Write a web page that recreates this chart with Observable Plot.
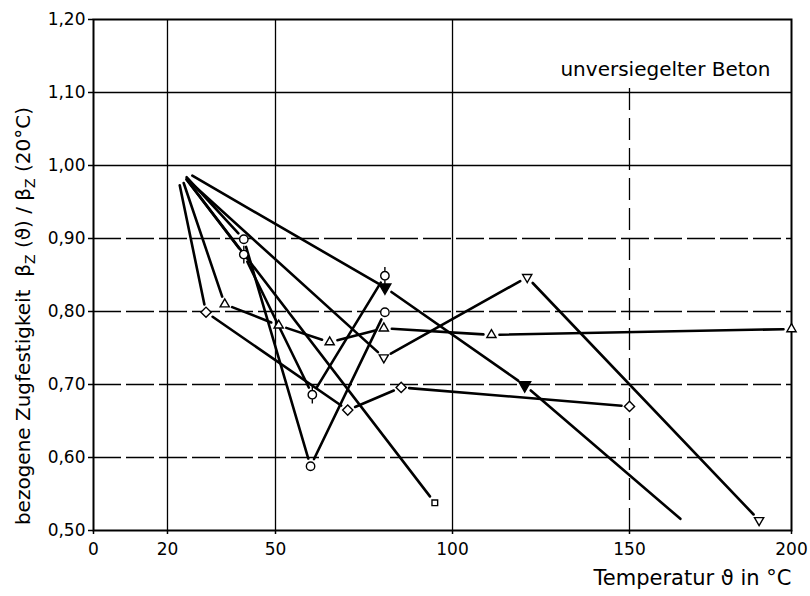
<!DOCTYPE html>
<html><head><meta charset="utf-8">
<script src="https://cdn.jsdelivr.net/npm/d3@7"></script>
<script src="https://cdn.jsdelivr.net/npm/@observablehq/plot@0.6"></script>
<style>
body{margin:0;background:#fff;}
#chart svg{display:block;}
</style>
</head><body><div id="chart"></div>
<script>
// axis ticks
const xTicks = [0, 20, 50, 100, 150, 200];
const yTicks = [0.5, 0.6, 0.7, 0.8, 0.9, 1.0, 1.1, 1.2];
const gridSolidY = [1.0, 1.1];
const gridDashedY = [0.6, 0.7, 0.8, 0.9];
const gridSolidX = [20, 50, 100];
const gridDashedX = [150];

// test series: temperature (°C) and relative tensile strength
const diamondT = [23.4, 30.7, 70.4, 85.5, 150];
const diamondV = [0.973, 0.799, 0.665, 0.696, 0.670];
const triUpT = [24.5, 35.9, 50.9, 65.3, 80.6, 111, 200];
const triUpV = [0.976, 0.810, 0.781, 0.758, 0.777, 0.768, 0.776];
const triDownT = [25.9, 80.6, 121.1, 190];
const triDownV = [0.979, 0.737, 0.847, 0.514];
const triFilledT = [26.9, 80.9, 120.4, 165.7];
const triFilledV = [0.986, 0.833, 0.699, 0.516];
const circleT = [25.3, 41.2, 59.9, 80.9];
const circleV = [0.984, 0.899, 0.588, 0.799];
const phiT = [25.3, 41.2, 60.4, 80.9];
const phiV = [0.981, 0.878, 0.686, 0.849];
const squareT = [25.3, 95];
const squareV = [0.981, 0.538];

const noteText = "unversiegelter Beton";
const xLabel = "Temperatur ϑ in °C";

// the hand-drawn temperature axis is slightly uneven: warp it piecewise
const xWarp = d3.scaleLinear()
  .domain([0, 20, 50, 100, 150, 200])
  .range([0, 21.2, 52.15, 102.87, 153.58, 200]);

// circle with a vertical stroke through it
const phiSymbol = {
  draw(ctx, size) {
    const r = Math.sqrt(size / Math.PI);
    ctx.moveTo(r, 0);
    ctx.arc(0, 0, r, 0, 2 * Math.PI);
    ctx.moveTo(0, -r * 2.1);
    ctx.lineTo(0, -r);
    ctx.moveTo(0, r);
    ctx.lineTo(0, r * 2.1);
  }
};

const seriesList = [
  {t: diamondT, v: diamondV, symbol: "diamond2", fill: "white", rotate: 0, r: 4.6, openEnd: false},
  {t: triUpT, v: triUpV, symbol: "triangle2", fill: "white", rotate: 0, r: 4.4, openEnd: false},
  {t: triDownT, v: triDownV, symbol: "triangle2", fill: "white", rotate: 180, r: 4.4, openEnd: false},
  {t: triFilledT, v: triFilledV, symbol: "triangle", fill: "black", rotate: 180, r: 4.4, openEnd: true},
  {t: circleT, v: circleV, symbol: "circle", fill: "white", rotate: 0, r: 4.2, openEnd: false},
  {t: phiT, v: phiV, symbol: phiSymbol, fill: "white", rotate: 0, r: 4.2, openEnd: false},
  {t: squareT, v: squareV, symbol: "square2", fill: "white", rotate: 0, r: 3.6, openEnd: false}
];

const segs = [];
const dotMarks = [];
seriesList.forEach((s) => {
  const pts = [];
  for (let i = 0; i < s.t.length; i++) {
    const marked = i > 0 && !(s.openEnd && i === s.t.length - 1);
    if (marked) pts.push({t: s.t[i], v: s.v[i]});
    if (i > 0) segs.push({t1: s.t[i - 1], v1: s.v[i - 1], t2: s.t[i], v2: s.v[i], a: i - 1 > 0, b: marked});
  }
  dotMarks.push(Plot.dot(pts, {x: "t", y: "v", symbol: s.symbol, r: s.r, rotate: s.rotate,
    fill: s.fill, stroke: "black", strokeWidth: 1.4}));
});

const lineOpts = {x1: "t1", y1: "v1", x2: "t2", y2: "v2", headLength: 0, bend: 0,
  stroke: "black", strokeWidth: 2.6, strokeLinecap: "round"};
const arrowMarks = [
  [false, true], [true, true], [true, false], [false, false]
].map(([a, b]) => Plot.arrow(segs.filter(d => d.a === a && d.b === b),
  {...lineOpts, insetStart: a ? 8 : 0, insetEnd: b ? 8 : 0}));

const plot = Plot.plot({
  width: 810,
  height: 596,
  marginLeft: 93, marginRight: 19, marginTop: 19, marginBottom: 66,
  style: {fontFamily: "'DejaVu Sans', sans-serif", fontSize: "16px", background: "white", color: "black"},
  x: {domain: [0, 200], transform: xWarp},
  y: {domain: [0.5, 1.2]},
  marks: [
    Plot.gridY(gridSolidY, {stroke: "black", strokeOpacity: 1, strokeWidth: 1.3}),
    Plot.gridY(gridDashedY, {stroke: "black", strokeOpacity: 1, strokeWidth: 1.3, strokeDasharray: "28,5"}),
    Plot.gridX(gridSolidX, {stroke: "black", strokeOpacity: 1, strokeWidth: 1.3}),
    Plot.ruleX(gridDashedX, {y1: 0.5, y2: 1.115, stroke: "black", strokeWidth: 1.3, strokeDasharray: "22,8"}),
    Plot.frame({stroke: "black", strokeWidth: 2}),
    Plot.axisY(yTicks, {tickFormat: d => d.toFixed(2).replace(".", ","), tickSize: 5, tickPadding: 3,
      fontSize: 17, label: null, strokeWidth: 1.5}),
    Plot.axisX(xTicks, {tickSize: 4, tickPadding: 8, fontSize: 17, label: null, strokeWidth: 1.5}),
    ...arrowMarks,
    ...dotMarks,
    Plot.text([noteText], {frameAnchor: "top-right", dx: -21, dy: 42, textAnchor: "end", fontSize: 20}),
    Plot.text([xLabel], {frameAnchor: "bottom-right", dx: 0, dy: 54, textAnchor: "end", fontSize: 21})
  ]
});

// y-axis title with subscripts
const yt = d3.select(plot).append("text")
  .attr("transform", "translate(30,316) rotate(-90)")
  .attr("text-anchor", "middle")
  .attr("fill", "black")
  .style("font-family", "'DejaVu Sans', sans-serif")
  .style("font-size", "20px");
yt.append("tspan").text("bezogene Zugfestigkeit  β");
yt.append("tspan").attr("dy", 5).style("font-size", "14px").text("Z");
yt.append("tspan").attr("dy", -5).text(" (ϑ) / β");
yt.append("tspan").attr("dy", 5).style("font-size", "14px").text("Z");
yt.append("tspan").attr("dy", -5).text(" (20°C)");

document.getElementById("chart").appendChild(plot);
</script>
</body></html>
